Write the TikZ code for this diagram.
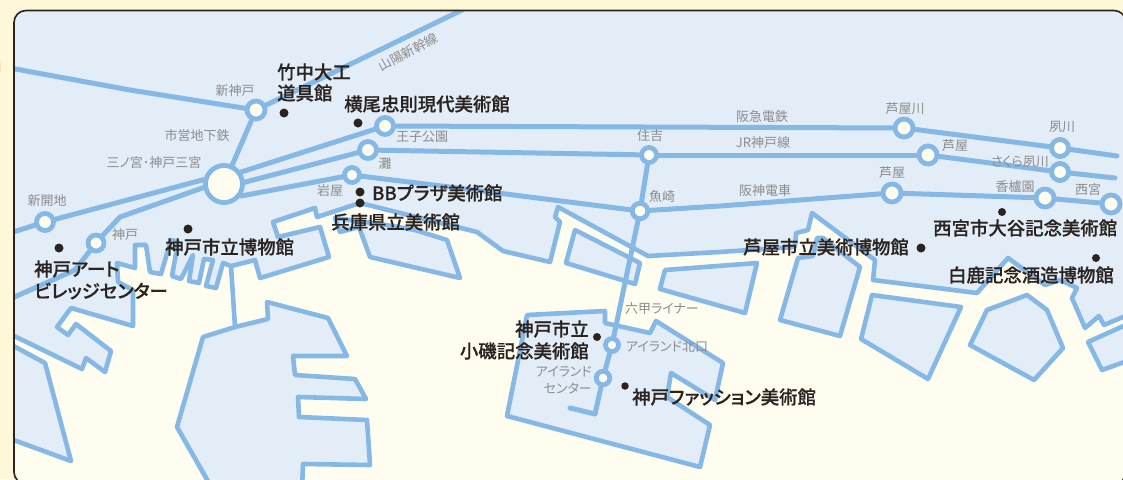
\documentclass[tikz,border=0pt]{standalone}
\usepackage{fontspec}
\setmainfont{Noto Sans CJK JP}
\newfontfamily\cjk[RawFeature=+palt]{Noto Sans CJK JP}
\newfontfamily\cjkm[RawFeature=+palt,FakeBold=0.35]{Noto Sans CJK JP Medium}
\definecolor{outbg}{HTML}{FFF8D8}
\definecolor{sea}{HTML}{FFFDF0}
\definecolor{land}{HTML}{E2EDF8}
\definecolor{coast}{HTML}{85B8E5}
\definecolor{ink}{HTML}{2A2320}
\definecolor{greylab}{HTML}{8C8C8C}
\tikzset{
  coastline/.style={draw=coast,line width=4.6pt,line join=round,line cap=round},
  seaarea/.style={coastline,fill=sea},
  island/.style={coastline,fill=land},
  rail/.style={draw=coast,line width=5pt,line join=round,line cap=round},
  stn/.style={circle,draw=coast,fill=sea,line width=4.8pt,inner sep=0pt,minimum size=#1},
  spot/.style={circle,fill=ink,inner sep=0pt,minimum size=#1},
  mus/.style={font=\cjkm\fontsize{18.4}{20}\selectfont,text=ink,inner sep=0pt},
  lab/.style={font=\cjk\fontsize{13}{14}\selectfont,text=greylab,inner sep=0pt},
}
\begin{document}
\begin{tikzpicture}[x=1pt,y=-1pt]
\useasboundingbox (0,0) rectangle (1123,479);
\fill[outbg] (0,0) rectangle (1123,479);
\fill[orange!22!outbg] (-7,67) ellipse (8 and 13);
\begin{scope}
\clip[rounded corners=12pt] (14,10.5) rectangle (1126,484);
\fill[land] (14,10.5) rectangle (1126,484);
% sea with main coast
\path[seaarea] (8,333) -- (82,369) -- (86,358) -- (105,372) -- (111,351) -- (76,324) -- (68,335) -- (57,327) -- (71,308) -- (133,326) -- (133,290) -- (118,282) -- (117,263) -- (135,268) -- (135,245) -- (146,245) -- (150,272) -- (161,274) -- (171,240) -- (178,242) -- (172,276) -- (181,279) -- (193,255) -- (189,281) -- (199,283) -- (204,259) -- (213,260) -- (206,286) -- (216,288) -- (223,263) -- (231,266) -- (255,260) -- (260,278) -- (329,257) -- (320,227) -- (278,237) -- (273,222) -- (315,208) -- (317,217) -- (360,203) -- (400,213) -- (477,232) -- (503,251) -- (550,262) -- (560,222) -- (555,217) -- (558,207) -- (648,256) -- (720,252) -- (795,247) -- (796,233) -- (808,230) -- (812,213) -- (875,260) -- (873,280) -- (977,293) -- (1008,258) -- (1045,285) -- (1060,280) -- (1077,288) -- (1072,298) -- (1085,328) -- (1099,316) -- (1104,325) -- (1130,314) -- (1130,490) -- (8,490) -- (8,438) -- (71,461) -- (45,363) -- (8,343) -- cycle;
% islands
\path[island] (203,337) -- (235,327) -- (268,319) -- (267,302) -- (328,318) -- (347,356) -- (293,356) -- (295,375) -- (355,379) -- (366,399) -- (298,397) -- (299,417) -- (367,420) -- (370,465) -- (303,464) -- (302,490) -- (213,490) -- (177,427) -- cycle;
\path[island] (335,218) -- (340,232) -- (359,227) -- (370,257) -- (460,278) -- (447,240) -- (415,230) -- (380,224) -- cycle;
\path[island] (575,230) -- (640,263) -- (635,284) -- (566,263) -- cycle;
\path[island] (665,270) -- (757,263) -- (745,313) -- (660,289) -- cycle;
\path[island] (798,258) -- (813,256) -- (817,238) -- (823,238) -- (860,267) -- (840,336) -- (780,320) -- cycle;
\path[island] (872,295) -- (961,307) -- (928,379) -- (861,339) -- cycle;
\path[island] (987,310) -- (1027,295) -- (1047,310) -- (1063,348) -- (1034,380) -- (970,345) -- cycle;
\path[island] (1088,342) -- (1130,323) -- (1130,360) -- (1102,370) -- cycle;
\path[island] (527,315) -- (605,311) -- (605,323) -- (650,333) -- (656,321) -- (723,363) -- (715,400) -- (671,373) -- (667,397) -- (710,425) -- (700,467) -- (507,416) -- cycle;
% bridge
\coordinate (brA) at (231,266);
\coordinate (brB) at (235,327);
\draw[coastline] (brA) -- (brB);
% stations
\node[stn=37pt] (sannomiya) at (224,184) {};
\node[stn=18pt] (shinkobe) at (256,110) {};
\node[stn=17pt] (shinkaichi) at (45,222) {};
\node[stn=16pt] (kobe) at (96,243) {};
\node[stn=17pt] (oji) at (385,126) {};
\node[stn=17pt] (nada) at (368,150) {};
\node[stn=15pt] (iwaya) at (352,175) {};
\node[stn=15pt] (sumiyoshi) at (649,155) {};
\node[stn=15.5pt] (uozaki) at (640,211) {};
\node[stn=18pt] (ashiyagawa) at (904,128) {};
\node[stn=18pt] (jrashiya) at (928,155) {};
\node[stn=17pt] (shukugawa) at (1060,148) {};
\node[stn=17pt] (sakura) at (1060,172) {};
\node[stn=18pt] (hsashiya) at (892,193) {};
\node[stn=18pt] (koroen) at (1045,198) {};
\node[stn=18pt] (nishinomiya) at (1111,204) {};
\node[stn=13pt] (kitaguchi) at (612,345) {};
\node[stn=13.5pt] (center) at (603,378) {};
% free ends and bends
\coordinate (shW) at (10,68);
\coordinate (shM) at (130,90);
\coordinate (shE) at (462,10);
\coordinate (kaiW) at (10,233);
\coordinate (kobeA) at (120,217);
\coordinate (kobeB) at (105,233);
\coordinate (kobeC) at (75,270);
\coordinate (kobeW) at (10,299);
\coordinate (hanshinB) at (490,192);
\coordinate (hkE) at (1117,156);
\coordinate (jrE) at (1115,178);
\coordinate (hsB) at (720,206);
\coordinate (rokE) at (595,414);
\coordinate (rokF) at (570,408);
% rails
\draw[rail] (shW) -- (shM) -- (shinkobe);
\draw[rail] (shinkobe) -- (shE);
\draw[rail] (shinkobe) -- (sannomiya);
\draw[rail] (kaiW) -- (shinkaichi);
\draw[rail] (shinkaichi) -- (sannomiya.168);
\draw[rail] (sannomiya.190) -- (kobeA) -- (kobeB) -- (kobe);
\draw[rail] (kobe) -- (kobeC) -- (kobeW);
\draw[rail] (sannomiya.35) -- (oji);
\draw[rail] (sannomiya.5) -- (nada);
\draw[rail] (sannomiya.-35) -- (iwaya);
\draw[rail] (oji) -- (ashiyagawa);
\draw[rail] (ashiyagawa) -- (shukugawa);
\draw[rail] (shukugawa) -- (hkE);
\draw[rail] (nada) -- (sumiyoshi);
\draw[rail] (sumiyoshi) -- (jrashiya);
\draw[rail] (jrashiya) -- (sakura);
\draw[rail] (sakura) -- (jrE);
\draw[rail] (iwaya) -- (hanshinB) -- (uozaki);
\draw[rail] (uozaki) -- (hsB) -- (hsashiya);
\draw[rail] (hsashiya) -- (koroen);
\draw[rail] (koroen) -- (nishinomiya);
\draw[rail] (sumiyoshi) -- (uozaki);
\draw[rail] (uozaki) -- (kitaguchi);
\draw[rail] (kitaguchi) -- (center);
\draw[rail] (center) -- (rokE) -- (rokF);
\end{scope}
\draw[ink,line width=1.6pt,rounded corners=12pt] (14,10.5) rectangle (1126,484);
% museum spots
\node[spot=9pt] (d1) at (284,113) {};
\node[spot=9pt] (d2) at (358,123) {};
\node[spot=9pt] (d3) at (188,229) {};
\node[spot=9pt] (d4) at (59,248) {};
\node[spot=9pt] (d5) at (360,192) {};
\node[spot=9pt] (d6) at (360,203) {};
\node[spot=8pt] (d7) at (597,337) {};
\node[spot=7.5pt] (d8) at (625,386) {};
\node[spot=9pt] (d9) at (921,248) {};
\node[spot=8pt] (d10) at (1002,212) {};
\node[spot=8pt] (d11) at (1096,258) {};
% museums
\node[mus,anchor=west] (m1a) at (277,72) {竹中大工};
\node[mus,anchor=west] (m1b) at (277,93) {道具館};
\node[mus,anchor=west] (m2) at (344,104) {横尾忠則現代美術館};
\node[mus,anchor=west] (m3) at (372,193) {BBプラザ美術館};
\node[mus,anchor=west] (m4) at (331,222) {兵庫県立美術館};
\node[mus,anchor=west] (m5) at (165,247) {神戸市立博物館};
\node[mus,anchor=west] (m6a) at (34,269) {神戸アート};
\node[mus,anchor=west] (m6b) at (34,291) {ビレッジセンター};
\node[mus,anchor=east] (m7a) at (589,329) {神戸市立};
\node[mus,anchor=east] (m7b) at (589,351) {小磯記念美術館};
\node[mus,anchor=west] (m8) at (632,397) {神戸ファッション美術館};
\node[mus,anchor=west] (m9) at (743,247) {芦屋市立美術博物館};
\node[mus,anchor=west] (m10) at (933,228) {西宮市大谷記念美術館};
\node[mus,anchor=west] (m11) at (948,275) {白鹿記念酒造博物館};
% grey labels
\node[lab] (l1) at (235,91) {新神戸};
\node[lab] (l2) at (197,136) {市営地下鉄};
\node[lab] (l3) at (154,163) {三ノ宮･神戸三宮};
\node[lab] (l4) at (47,201) {新開地};
\node[lab] (l5) at (330,191) {岩屋};
\node[lab] (l6) at (125,235) {神戸};
\node[lab] (l7) at (422,137) {王子公園};
\node[lab] (l8) at (385,164) {灘};
\node[lab] (l9) at (650,136) {住吉};
\node[lab] (l10) at (662,197) {魚崎};
\node[lab] (l11) at (762,117) {阪急電鉄};
\node[lab] (l12) at (763,143) {JR神戸線};
\node[lab] (l13) at (765,191) {阪神電車};
\node[lab] (l14) at (905,109) {芦屋川};
\node[lab] (l15) at (955,146) {芦屋};
\node[lab] (l16) at (1062,127) {夙川};
\node[lab] (l17) at (1020,162) {さくら夙川};
\node[lab] (l18) at (892,173) {芦屋};
\node[lab] (l19) at (1015,187) {香櫨園};
\node[lab] (l20) at (1088,190) {西宮};
\node[lab] (l21) at (662,309) {六甲ライナー};
\node[lab] (l22) at (667,347) {アイランド北口};
\node[lab,anchor=east] (l23) at (592,372) {アイランド};
\node[lab,anchor=east] (l24) at (592,388) {センター};
\node[lab,rotate=28] (l25) at (408,52) {山陽新幹線};
\end{tikzpicture}
\end{document}
